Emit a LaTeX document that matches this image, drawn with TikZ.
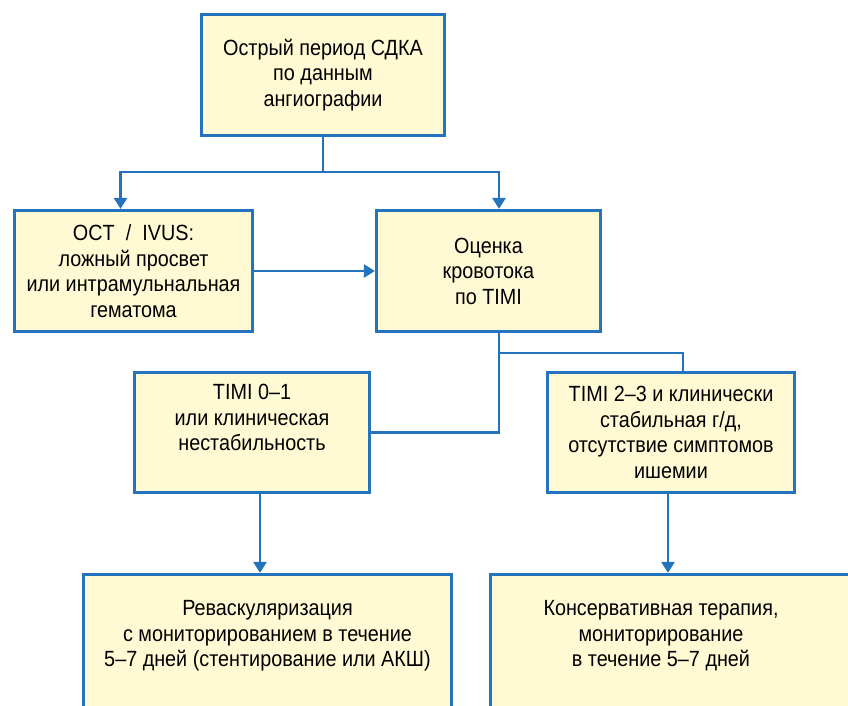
\documentclass[tikz,border=0pt]{standalone}
\usepackage{fontspec}
\setmainfont{Liberation Sans}[FakeStretch=0.9]
\usetikzlibrary{arrows.meta, positioning, calc}
\definecolor{boxblue}{RGB}{36,115,190}
\definecolor{boxfill}{RGB}{255,250,212}

\begin{document}
\begin{tikzpicture}[
    x=1pt, y=-1pt,
    block/.style={rectangle, draw=boxblue, fill=boxfill, line width=3.2pt, align=center, inner sep=0pt, font=\fontsize{22}{25.5}\selectfont},
    txt/.style={align=center, inner sep=0pt, font=\fontsize{22}{25.5}\selectfont},
    arrow/.style={-{Triangle[length=11pt,width=13pt]}, draw=boxblue, line width=2.8pt},
    link/.style={draw=boxblue, line width=2.8pt}
]
    \useasboundingbox (0,0) rectangle (848,706);
    \clip (0,0) rectangle (848,706);

    \node[block, minimum width=243pt, minimum height=121pt] (acute) at (323,75) {Острый период СДКА\\по данным\\ангиографии};
    \node[block, minimum width=238pt, minimum height=121pt] (oct) at (133.5,271) {OCT \ / \ IVUS:\\ложный просвет\\или интрамульнальная\\гематома};
    \node[block, minimum width=224pt, minimum height=121pt] (flow) at (488.5,271) {Оценка\\кровотока\\по TIMI};
    \node[block, minimum width=235pt, minimum height=120pt] (unstable) at (252,432.5) {TIMI 0–1\\или клиническая\\нестабильность\\[4pt]};
    \node[block, minimum width=247pt, minimum height=120pt] (stable) at (671,432.5) {TIMI 2–3 и клинически\\стабильная г/д,\\отсутствие симптомов\\ишемии};
    \node[block, minimum width=368pt, minimum height=184pt] (revasc) at (267.5,666.5) {};
    \node[block, minimum width=408pt, minimum height=184pt] (conserv) at (694.5,666.5) {};
    \node[txt] (revasctext) at (267.5,636) {Реваскуляризация\\с мониторированием в течение\\5–7 дней (стентирование или АКШ)};
    \node[txt] (conservtext) at (661,636) {Консервативная терапия,\\мониторирование\\в течение 5–7 дней};

    % Split after acute period
    \coordinate (split) at (323,172);
    \draw[link] (acute.south) -- (split);
    \draw[arrow] (split) -| ([xshift=-13pt]oct.north);
    \draw[arrow] (split) -| ([xshift=10.5pt]flow.north);
    \draw[arrow] (oct.east) -- (flow.west);

    % TIMI branches
    \coordinate (branch) at (499,353);
    \draw[link] ([xshift=10.5pt]flow.south) |- (unstable.east);
    \draw[link] (branch) -| ([xshift=12pt]stable.north);

    % Treatment
    \draw[arrow] ([xshift=8pt]unstable.south) -- ([xshift=8pt]unstable.south |- revasc.north);
    \draw[arrow] ([xshift=-3pt]stable.south) -- ([xshift=-3pt]stable.south |- conserv.north);
\end{tikzpicture}
\end{document}
